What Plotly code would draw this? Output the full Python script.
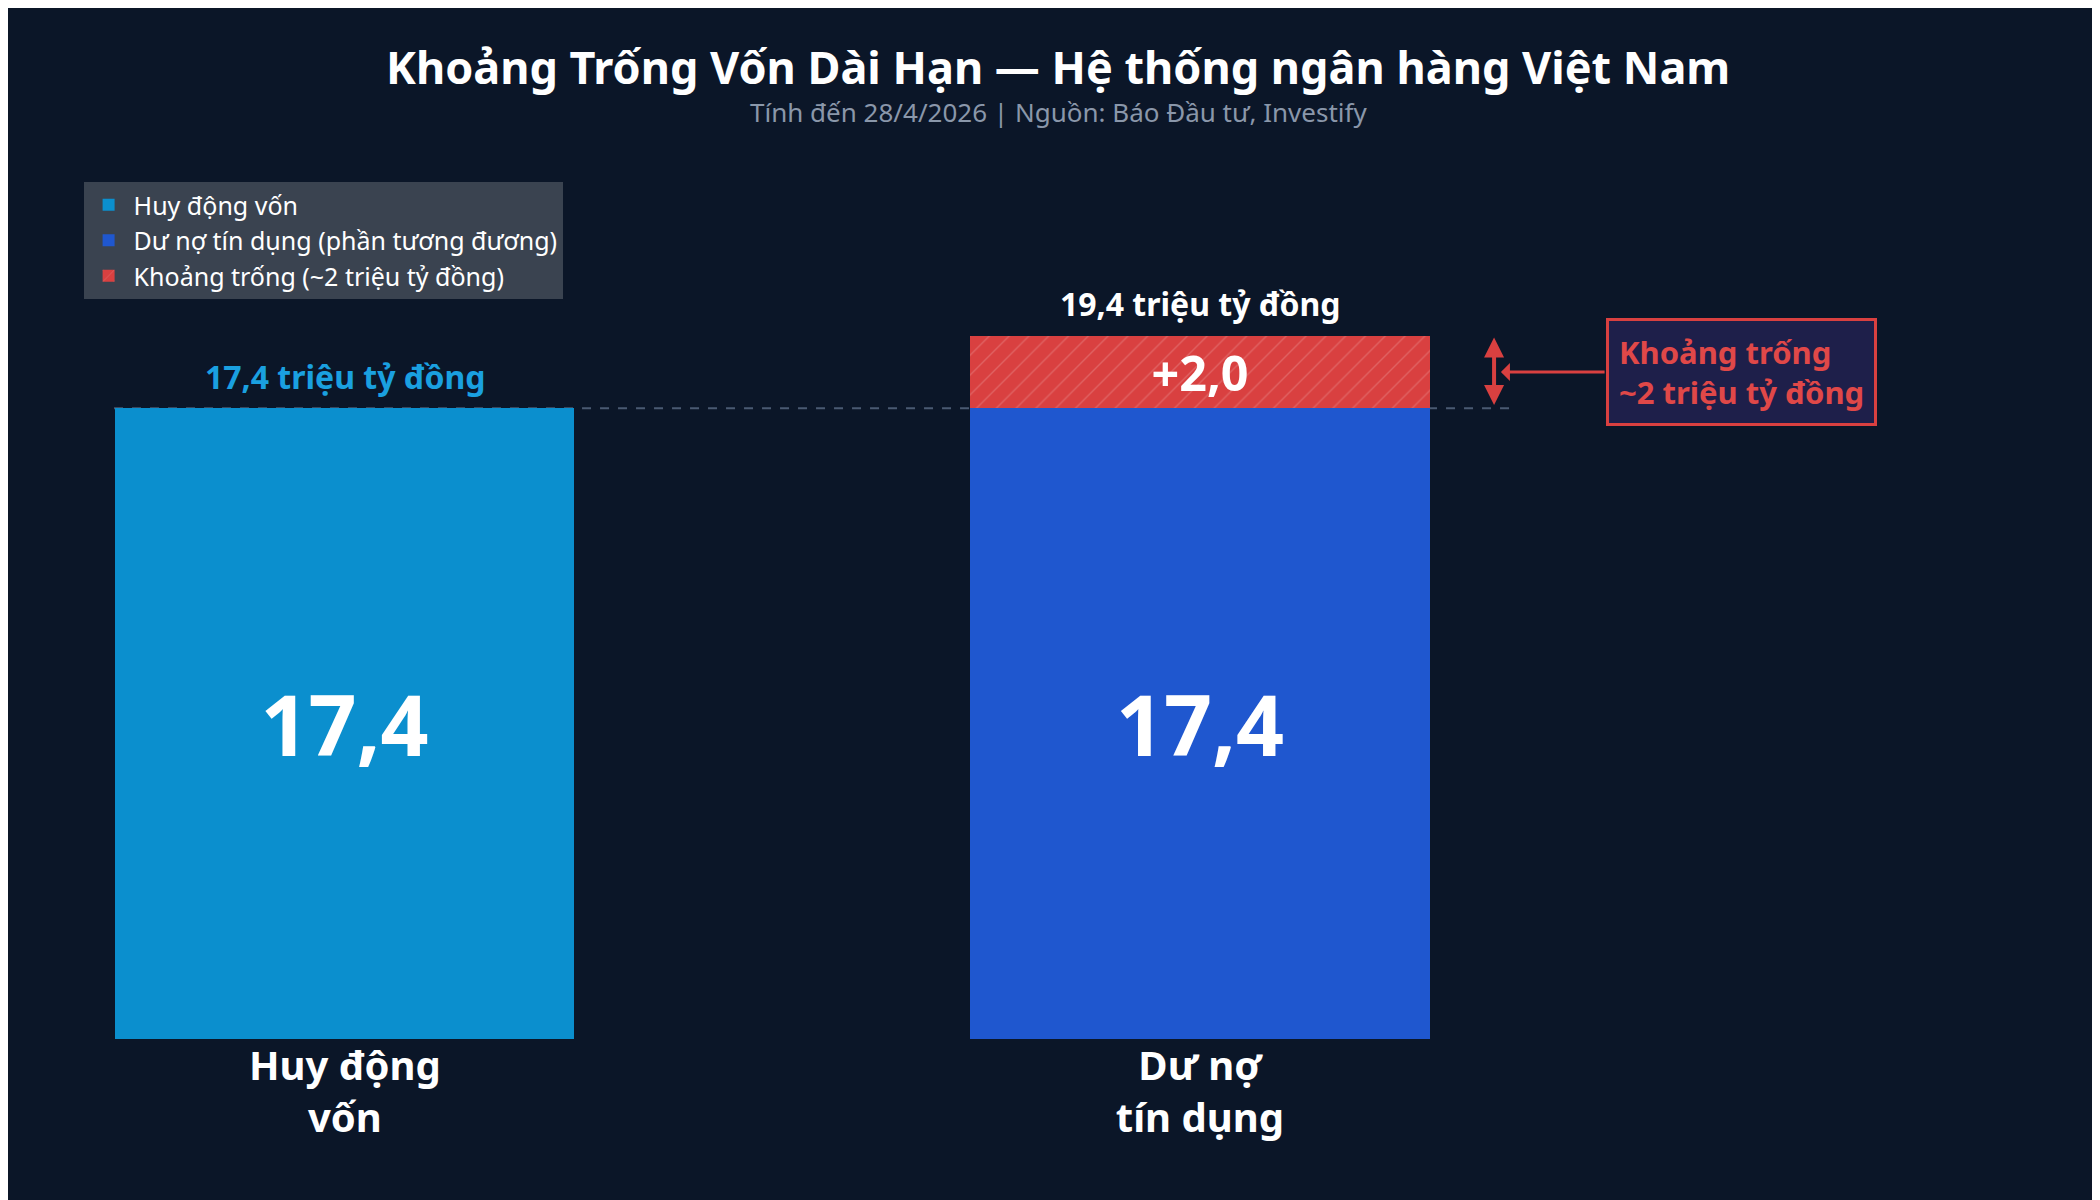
import plotly.graph_objects as go

categories = ["Huy động<br>vốn", "Dư nợ<br>tín dụng"]
huy_dong = [17.4]
du_no = [17.4]
khoang_trong = [2.0]
legend_names = ["Huy động vốn", "Dư nợ tín dụng (phần tương đương)", "Khoảng trống (~2 triệu tỷ đồng)"]

def vn(v):
    return f"{v:.1f}".replace(".", ",")

BG = "#0b1628"
C1, C2, C3 = "#0b8fce", "#1f57cf", "#d94040"
F = "Noto Sans"
total = du_no[0] + khoang_trong[0]

fig = go.Figure()
fig.add_bar(x=[0], y=huy_dong, name=legend_names[0], marker=dict(color=C1, line_width=0), width=0.537,
            text=[vn(v) for v in huy_dong], textposition="inside", insidetextanchor="middle",
            textfont=dict(size=84, color="white", family=F, weight="bold"))
fig.add_bar(x=[1], y=du_no, name=legend_names[1], marker=dict(color=C2, line_width=0), width=0.537,
            text=[vn(v) for v in du_no], textposition="inside", insidetextanchor="middle",
            textfont=dict(size=84, color="white", family=F, weight="bold"))
fig.add_bar(x=[1], y=khoang_trong, name=legend_names[2], width=0.537,
            marker=dict(color=C3, line_width=0,
                        pattern=dict(shape="/", fgcolor="rgba(255,255,255,0.35)", size=14, solidity=0.1)),
            text=["+" + vn(v) for v in khoang_trong], textposition="inside", insidetextanchor="middle",
            textfont=dict(size=58, color="white", family=F, weight="bold"))

fig.add_shape(type="line", x0=-0.27, x1=1.371, y0=huy_dong[0], y1=huy_dong[0], layer="below",
              line=dict(color="#4a5a72", width=2, dash="dash"))

def py(px_from_top):
    return (1200 - px_from_top - 169) / 870

anns = [
    dict(x=0, y=huy_dong[0], yshift=32, text=f"{vn(huy_dong[0])} triệu tỷ đồng", showarrow=False,
         font=dict(size=32, color="#1aa0e0", family=F, weight="bold")),
    dict(x=1, y=total, yshift=32, text=f"{vn(total)} triệu tỷ đồng", showarrow=False,
         font=dict(size=32, color="white", family=F, weight="bold")),
    dict(x=1.344, y=total - 0.05, ax=1.344, ay=huy_dong[0] + 0.05, xref="x", yref="y", axref="x", ayref="y",
         text="", showarrow=True, arrowhead=2, arrowside="end+start", arrowwidth=4, arrowcolor=C3, arrowsize=1),
    dict(x=1.352, y=18.4, ax=1.475, ay=18.4, axref="x", ayref="y", text="", showarrow=True,
         arrowhead=1, arrowwidth=3, arrowcolor=C3),
    dict(x=1.475, y=18.4, xanchor="left", text="Khoảng trống<br>~2 triệu tỷ đồng", showarrow=False, align="left",
         font=dict(size=31, color="#e04848", family=F, weight="bold"), bgcolor="#1e1f4a",
         bordercolor=C3, borderwidth=3, borderpad=10),
    dict(x=0.5, y=py(58), xref="paper", yref="paper", yanchor="middle", showarrow=False,
         text="Khoảng Trống Vốn Dài Hạn — Hệ thống ngân hàng Việt Nam",
         font=dict(size=45, color="white", family=F, weight="bold")),
    dict(x=0.5, y=py(104), xref="paper", yref="paper", yanchor="middle", showarrow=False,
         text="Tính đến 28/4/2026 | Nguồn: Báo Đầu tư, Investify",
         font=dict(size=26, color="#8a97aa", family=F)),
]

fig.update_layout(
    width=2100, height=1200, paper_bgcolor=BG, plot_bgcolor=BG, barmode="stack",
    margin=dict(l=0, r=0, t=161, b=169), annotations=anns, bargap=0,
    xaxis=dict(range=[-0.394, 2.062], tickvals=[0, 1], ticktext=categories, showgrid=False,
               zeroline=False, tickfont=dict(size=40, color="white", family=F, weight="bold"), ticklen=8,
               tickcolor=BG),
    yaxis=dict(range=[0, 24], visible=False),
    legend=dict(x=0.036, y=py(174), xanchor="left", yanchor="top", bgcolor="#3a4350",
                font=dict(size=25, color="white", family=F), traceorder="normal",
                itemwidth=40, tracegroupgap=4),
    font=dict(family=F), showlegend=True,
)
fig.write_html("out.html")
